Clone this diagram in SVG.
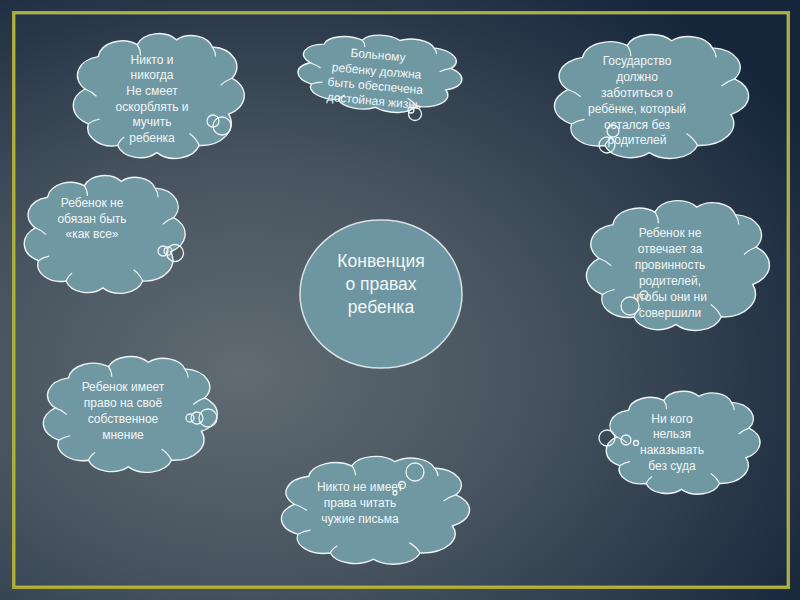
<svg xmlns="http://www.w3.org/2000/svg" xmlns:xlink="http://www.w3.org/1999/xlink" width="800" height="600" viewBox="0 0 800 600">
  <defs>
    <radialGradient id="bg" cx="0.33" cy="0.62" r="0.8" fx="0.3" fy="0.62">
      <stop offset="0" stop-color="#606b73"/>
      <stop offset="0.45" stop-color="#46535e"/>
      <stop offset="1" stop-color="#15253a"/>
    </radialGradient>
    <g id="cloudShape">
      <g transform="scale(0.96) translate(2,2.5)">
        <path class="cloud-body" d="M6,45 A16,16 0 0 1 14,18 A15,15 0 0 1 38,8 A14,14 0 0 1 62,4 A13.5,13.5 0 0 1 84,10 A16.5,16.5 0 0 1 96,36 A17.5,17.5 0 0 1 94,66 A18.5,18.5 0 0 1 76,92 A15.5,15.5 0 0 1 50,98 A14.5,14.5 0 0 1 26,92 A15,15 0 0 1 8,74 A17,17 0 0 1 6,45 Z"/>
        <path class="cloud-line" d="M6,45 Q10,47 13,51 M38,8 Q40,12 40,17 M84,10 Q86,14 86,18 M96,36 Q92,38 89,42 M76,92 Q74,86 70,82 M26,92 Q27,88 30,85 M8,74 Q11,71 15,70"/>
      </g>
    </g>
    <style>
      .cloud-body { fill: #6f98a3; stroke: #eef3f3; stroke-width: 1.4; vector-effect: non-scaling-stroke; }
      .cloud-line { fill: none; stroke: #eef3f3; stroke-width: 1.2; vector-effect: non-scaling-stroke; }
      .bubble { fill: none; stroke: #eef3f3; stroke-width: 1.3; }
      .t { font-family: "Liberation Sans", Arial, sans-serif; font-size: 12px; fill: #f2f6f6; text-anchor: middle; }
      .tc { font-family: "Liberation Sans", Arial, sans-serif; font-size: 17.5px; fill: #f2f6f6; text-anchor: middle; }
    </style>
  </defs>

  <rect x="0" y="0" width="800" height="600" fill="url(#bg)"/>
  <rect x="13.5" y="12.5" width="775" height="575" fill="none" stroke="#a9aa36" stroke-width="3"/>
  <rect x="15" y="14" width="772" height="572" fill="none" stroke="#d6d77a" stroke-width="0.8" opacity="0.7"/>

  <g id="connectors"></g>

  <g id="center">
    <ellipse cx="381" cy="294" rx="81" ry="74" fill="#6e96a2" stroke="#d9e2e4" stroke-width="1.5"/>
    <text class="tc" x="381" y="267">Конвенция</text>
    <text class="tc" x="381" y="290">о правах</text>
    <text class="tc" x="381" y="313">ребенка</text>
  </g>

  <g id="cloud1">
    <use xlink:href="#cloudShape" href="#cloudShape" transform="translate(72,32) scale(1.7,1.25)"/>
    <circle class="bubble" cx="213" cy="121" r="6"/>
    <circle class="bubble" cx="222" cy="126" r="9"/>
    <text class="t" x="152" y="64">Никто и</text>
    <text class="t" x="152" y="79">никогда</text>
    <text class="t" x="152" y="95">Не смеет</text>
    <text class="t" x="152" y="111">оскорблять и</text>
    <text class="t" x="152" y="126">мучить</text>
    <text class="t" x="152" y="142">ребенка</text>
  </g>

  <g id="cloud2">
    <g transform="rotate(5,378,72)">
      <use xlink:href="#cloudShape" href="#cloudShape" transform="translate(297,34) scale(1.63,0.76)"/>
    </g>
    <circle class="bubble" cx="415" cy="114" r="6.5"/>
    <circle class="bubble" cx="411" cy="110" r="3"/>
    <g transform="rotate(5,376,78)">
      <text class="t" x="376" y="59">Больному</text>
      <text class="t" x="376" y="75">ребенку должна</text>
      <text class="t" x="376" y="90">быть обеспечена</text>
      <text class="t" x="376" y="105">достойная жизнь</text>
    </g>
  </g>

  <g id="cloud3">
    <use xlink:href="#cloudShape" href="#cloudShape" transform="translate(553,33) scale(1.93,1.24)"/>
    <circle class="bubble" cx="613" cy="131" r="6"/>
    <circle class="bubble" cx="607" cy="145" r="8"/>
    <text class="t" x="637" y="65">Государство</text>
    <text class="t" x="637" y="81">должно</text>
    <text class="t" x="637" y="97">заботиться о</text>
    <text class="t" x="637" y="113">ребёнке, который</text>
    <text class="t" x="637" y="129">остался без</text>
    <text class="t" x="637" y="144">родителей</text>
  </g>

  <g id="cloud4">
    <use xlink:href="#cloudShape" href="#cloudShape" transform="translate(23,174) scale(1.6,1.18)"/>
    <circle class="bubble" cx="163" cy="251" r="5"/>
    <circle class="bubble" cx="168" cy="251" r="4"/>
    <circle class="bubble" cx="175" cy="253" r="8.5"/>
    <text class="t" x="92" y="207">Ребенок не</text>
    <text class="t" x="92" y="223">обязан быть</text>
    <text class="t" x="92" y="238">«как все»</text>
  </g>

  <g id="cloud5">
    <use xlink:href="#cloudShape" href="#cloudShape" transform="translate(585,199) scale(1.82,1.3)"/>
    <circle class="bubble" cx="630" cy="306" r="9"/>
    <circle class="bubble" cx="644" cy="295" r="4"/>
    <text class="t" x="670" y="237">Ребенок не</text>
    <text class="t" x="670" y="253">отвечает за</text>
    <text class="t" x="670" y="269">провинность</text>
    <text class="t" x="670" y="285">родителей,</text>
    <text class="t" x="670" y="301">чтобы они ни</text>
    <text class="t" x="670" y="317">совершили</text>
  </g>

  <g id="cloud7">
    <use xlink:href="#cloudShape" href="#cloudShape" transform="translate(42,355) scale(1.73,1.16)"/>
    <circle class="bubble" cx="190" cy="418" r="4"/>
    <circle class="bubble" cx="197" cy="418" r="6"/>
    <circle class="bubble" cx="208" cy="418" r="9"/>
    <text class="t" x="123" y="391">Ребенок имеет</text>
    <text class="t" x="123" y="407">право на своё</text>
    <text class="t" x="123" y="423">собственное</text>
    <text class="t" x="123" y="439">мнение</text>
  </g>

  <g id="cloud8">
    <use xlink:href="#cloudShape" href="#cloudShape" transform="translate(605,390) scale(1.53,1.03)"/>
    <circle class="bubble" cx="607" cy="438" r="8"/>
    <circle class="bubble" cx="626" cy="440" r="5"/>
    <circle class="bubble" cx="636" cy="443" r="2.5"/>
    <text class="t" x="672" y="423">Ни кого</text>
    <text class="t" x="672" y="438">нельзя</text>
    <text class="t" x="672" y="454">наказывать</text>
    <text class="t" x="672" y="470">без суда</text>
  </g>

  <g id="cloud9">
    <use xlink:href="#cloudShape" href="#cloudShape" transform="translate(280,455) scale(1.87,1.08)"/>
    <circle class="bubble" cx="415" cy="472" r="9"/>
    <circle class="bubble" cx="402" cy="485" r="3.5"/>
    <circle class="bubble" cx="395" cy="493" r="2"/>
    <text class="t" x="360" y="491">Никто не имеет</text>
    <text class="t" x="360" y="507">права читать</text>
    <text class="t" x="360" y="523">чужие письма</text>
  </g>
</svg>
